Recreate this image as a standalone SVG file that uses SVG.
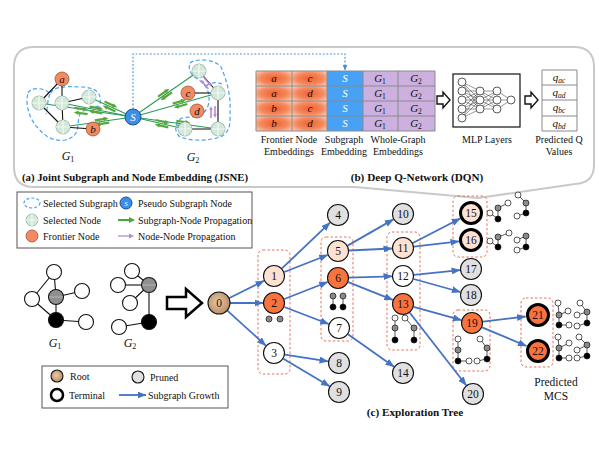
<svg xmlns="http://www.w3.org/2000/svg" width="599" height="463" viewBox="0 0 599 463">
<style>
text{font-family:"Liberation Serif","Times New Roman",serif;fill:#111}
.lbl{font-size:10px}
.cap{font-size:11.2px;font-weight:bold}
.it{font-style:italic}
.tn{font-size:11.5px;text-anchor:middle}
.nd{stroke:#111;stroke-width:1.1}
.term{stroke:#000;stroke-width:3}
.pru{fill:#e0e0e0}
.pea{fill:#fde2d2}
.org{fill:#f9733f}
.wht{fill:#fff}
.edge{stroke:#4472c4;stroke-width:1.8;fill:none;marker-end:url(#ah)}
.sel{fill:#d3e7da;stroke:#8fb09c;stroke-width:0.8}
.selx{stroke:#f2faf4;stroke-width:1.2}
.fr{fill:#f28a64;stroke:#a0502f;stroke-width:0.8}
.bk{stroke:#111;stroke-width:1.1}
.gl{stroke:#2b9a5a;stroke-width:1.1}
.bd{fill:none;stroke:#4aa3ee;stroke-width:1.2;stroke-dasharray:4,2.5}
.rbox{fill:none;stroke:#e8735a;stroke-width:1;stroke-dasharray:2.5,2}
.sm{stroke:#111;stroke-width:0.7}
.sm path{fill:none}
.sg{fill:#8a8a8a}
.sb{fill:#000}
.sw{fill:#fff}
.cell{stroke:#8a8a8a;stroke-width:1}
.gg{font-style:italic}
</style>
<defs>
<marker id="ah" markerWidth="9" markerHeight="7" refX="8.5" refY="3.5" orient="auto" markerUnits="userSpaceOnUse"><path d="M0,0 L9,3.5 L0,7 z" fill="#4472c4"/></marker>
<marker id="bh" markerWidth="6" markerHeight="5" refX="5.5" refY="2.5" orient="auto" markerUnits="userSpaceOnUse"><path d="M0,0 L6,2.5 L0,5 z" fill="#3d8fe0"/></marker>
<radialGradient id="og" cx="0.5" cy="0.5" r="0.7"><stop offset="0" stop-color="#f25f2e"/><stop offset="0.55" stop-color="#f58a5f"/><stop offset="1" stop-color="#fcd6c3"/></radialGradient>
<radialGradient id="rootg" cx="0.45" cy="0.45" r="0.6"><stop offset="0" stop-color="#e9c9a4"/><stop offset="1" stop-color="#b88a62"/></radialGradient>
<g id="dbl">
<path d="M-7,-2.2 H3" stroke="#57a83a" stroke-width="2.2"/><path d="M2,-4.4 L7,-2.2 L2,0 z" fill="#57a83a"/>
<path d="M7,2.2 H-3" stroke="#57a83a" stroke-width="2.2"/><path d="M-2,0 L-7,2.2 L-2,4.4 z" fill="#57a83a"/>
</g>
<g id="pdbl">
<path d="M-6,-2 H3" stroke="#b48ad6" stroke-width="1.6"/><path d="M2,-3.8 L6,-2 L2,-0.2 z" fill="#b48ad6"/>
<path d="M6,2 H-3" stroke="#b48ad6" stroke-width="1.6"/><path d="M-2,0.2 L-6,2 L-2,3.8 z" fill="#b48ad6"/>
</g>
</defs>
<rect width="599" height="463" fill="#fff"/>

<!-- top panel -->
<path id="panel" d="M34,47 H574 Q594,47 594,67 V165 Q594,183 575,184 L478,198 L355,187 H34 Q14,187 14,167 V67 Q14,47 34,47 Z" fill="#fff" stroke="#c9c9c9" stroke-width="2"/>

<!-- JSNE -->
<g id="jsne">
<path class="bd" d="M28,93 C30,87 45,87 50,94 C53,87 63,86 80,87 C95,87 102,92 100,104 C98,109 86,106 80,114 C76,124 82,136 65,140 C52,142 44,135 37,127 C29,118 25,104 28,93 Z"/>
<path class="bd" d="M50,94 C47,100 48,108 46,114"/>
<path class="bd" d="M190,63 C196,58 215,59 221,67 C226,78 231,95 230,110 C230,122 232,134 217,138 C205,141 190,141 180,137 C174,132 174,122 182,118 C192,116 203,119 208,106 C211,95 208,85 196,78 C190,74 188,68 190,63 Z"/>
<path class="bd" d="M206,86 C210,82 218,82 222,84"/>
<line class="gl" x1="133" y1="117" x2="39" y2="103"/>
<line class="gl" x1="133" y1="117" x2="62" y2="103"/>
<line class="gl" x1="133" y1="117" x2="89" y2="97"/>
<line class="gl" x1="133" y1="117" x2="63" y2="127"/>
<line class="gl" x1="133" y1="117" x2="199" y2="71"/>
<line class="gl" x1="133" y1="117" x2="218" y2="93"/>
<line class="gl" x1="133" y1="117" x2="218" y2="129"/>
<line class="gl" x1="133" y1="117" x2="185" y2="129"/>
<line class="bk" x1="62" y1="79" x2="39" y2="103"/>
<line class="bk" x1="62" y1="79" x2="62" y2="103"/>
<line class="bk" x1="62" y1="103" x2="89" y2="97"/>
<line class="bk" x1="39" y1="103" x2="63" y2="127"/>
<line class="bk" x1="62" y1="103" x2="63" y2="127"/>
<line class="bk" x1="63" y1="127" x2="93" y2="129"/>
<line class="bk" x1="188" y1="93" x2="218" y2="93"/>
<line class="bk" x1="199" y1="71" x2="218" y2="93"/>
<line class="bk" x1="218" y1="93" x2="218" y2="129"/>
<line class="bk" x1="185" y1="129" x2="218" y2="129"/>
<use href="#dbl" transform="translate(110,106.5) rotate(24.4)"/>
<use href="#dbl" transform="translate(96,110) rotate(11.2)"/>
<use href="#dbl" transform="translate(81,111) rotate(8.5)"/>
<use href="#dbl" transform="translate(102,121.5) rotate(-8.1)"/>
<use href="#dbl" transform="translate(165,94.5) rotate(-34.9)"/>
<use href="#dbl" transform="translate(180,103.8) rotate(-15.8)"/>
<use href="#dbl" transform="translate(162,123.7) rotate(13)"/>
<use href="#dbl" transform="translate(183,124) rotate(8)"/>
<use href="#pdbl" transform="translate(206,83) rotate(49)"/>
<use href="#pdbl" transform="translate(213,112) rotate(90)"/>
<g id="selnodes">
<circle class="sel" cx="39" cy="103" r="7"/><path class="selx" d="M39,96V110M32,103H46"/>
<circle class="sel" cx="62" cy="103" r="7"/><path class="selx" d="M62,96V110M55,103H69"/>
<circle class="sel" cx="89" cy="97" r="7"/><path class="selx" d="M89,90V104M82,97H96"/>
<circle class="sel" cx="63" cy="127" r="7"/><path class="selx" d="M63,120V134M56,127H70"/>
<circle class="sel" cx="199" cy="71" r="7"/><path class="selx" d="M199,64V78M192,71H206"/>
<circle class="sel" cx="218" cy="93" r="7"/><path class="selx" d="M218,86V100M211,93H225"/>
<circle class="sel" cx="218" cy="129" r="7"/><path class="selx" d="M218,122V136M211,129H225"/>
<circle class="sel" cx="185" cy="129" r="7"/><path class="selx" d="M185,122V136M178,129H192"/>
</g>
<circle class="fr" cx="62" cy="79" r="7"/><text x="62" y="83" class="it" font-size="11" text-anchor="middle">a</text>
<circle class="fr" cx="93" cy="129" r="7"/><text x="93" y="133" class="it" font-size="11" text-anchor="middle">b</text>
<circle class="fr" cx="188" cy="93" r="7"/><text x="188" y="97" class="it" font-size="11" text-anchor="middle">c</text>
<circle class="fr" cx="197" cy="111" r="7"/><text x="197" y="115" class="it" font-size="11" text-anchor="middle">d</text>
<circle cx="133" cy="117" r="8" fill="#3b8fe6" stroke="#1d4f8a" stroke-width="1"/>
<text x="133" y="121" class="it" font-size="11" text-anchor="middle" style="fill:#fff">S</text>
<text x="68" y="160" font-size="12" text-anchor="middle" class="gg">G<tspan font-size="8" dy="2" font-style="normal">1</tspan></text>
<text x="193" y="161" font-size="12" text-anchor="middle" class="gg">G<tspan font-size="8" dy="2" font-style="normal">2</tspan></text>
<path d="M133,109 V54 H345 V70" fill="none" stroke="#3d8fe0" stroke-width="1.1" stroke-dasharray="1.8,1.8" marker-end="url(#bh)"/>
<text x="135" y="181" class="cap" text-anchor="middle" style="font-size:10.8px">(a) Joint Subgraph and Node Embedding (JSNE)</text>
</g>

<!-- DQN -->
<g id="dqn">
<g id="table">
<rect x="256" y="71" width="36" height="15" fill="url(#og)"/><rect x="292" y="71" width="35" height="15" fill="url(#og)"/>
<rect x="256" y="86" width="36" height="15" fill="url(#og)"/><rect x="292" y="86" width="35" height="15" fill="url(#og)"/>
<rect x="256" y="101" width="36" height="15" fill="url(#og)"/><rect x="292" y="101" width="35" height="15" fill="url(#og)"/>
<rect x="256" y="116" width="36" height="15" fill="url(#og)"/><rect x="292" y="116" width="35" height="15" fill="url(#og)"/>
<rect x="327" y="71" width="36" height="60" fill="#47a2f5"/>
<rect x="363" y="71" width="72" height="60" fill="#ccb0df"/>
<path class="cell" fill="none" d="M256,71 H435 V131 H256 Z M256,86 H435 M256,101 H435 M256,116 H435 M292,71 V131 M327,71 V131 M363,71 V131 M398,71 V131"/>
<g font-size="11" text-anchor="middle">
<text x="274" y="82" class="it">a</text><text x="310" y="82" class="it">c</text>
<text x="274" y="97" class="it">a</text><text x="310" y="97" class="it">d</text>
<text x="274" y="112" class="it">b</text><text x="310" y="112" class="it">c</text>
<text x="274" y="127" class="it">b</text><text x="310" y="127" class="it">d</text>
<text x="345" y="82" class="it" style="fill:#fff">S</text>
<text x="345" y="97" class="it" style="fill:#fff">S</text>
<text x="345" y="112" class="it" style="fill:#fff">S</text>
<text x="345" y="127" class="it" style="fill:#fff">S</text>
</g>
<g font-size="11" text-anchor="middle" class="gg">
<text x="380" y="82">G<tspan font-size="7.5" dy="2" font-style="normal">1</tspan></text><text x="416" y="82">G<tspan font-size="7.5" dy="2" font-style="normal">2</tspan></text>
<text x="380" y="97">G<tspan font-size="7.5" dy="2" font-style="normal">1</tspan></text><text x="416" y="97">G<tspan font-size="7.5" dy="2" font-style="normal">2</tspan></text>
<text x="380" y="112">G<tspan font-size="7.5" dy="2" font-style="normal">1</tspan></text><text x="416" y="112">G<tspan font-size="7.5" dy="2" font-style="normal">2</tspan></text>
<text x="380" y="127">G<tspan font-size="7.5" dy="2" font-style="normal">1</tspan></text><text x="416" y="127">G<tspan font-size="7.5" dy="2" font-style="normal">2</tspan></text>
</g>
</g>
<g class="lbl" text-anchor="middle">
<text x="289" y="143">Frontier Node</text><text x="289" y="155">Embeddings</text>
<text x="344" y="143">Subgraph</text><text x="344" y="155">Embedding</text>
<text x="398" y="143">Whole-Graph</text><text x="398" y="155">Embeddings</text>
<text x="487" y="143">MLP Layers</text>
<text x="559" y="143">Predicted Q</text><text x="559" y="155">Values</text>
</g>
<path d="M437,96 H443 V92 L450,100 L443,108 V104 H437 Z" fill="#fff" stroke="#111" stroke-width="1.4"/>
<path d="M525,96 H531 V92 L538,100 L531,108 V104 H525 Z" fill="#fff" stroke="#111" stroke-width="1.4"/>
<g id="mlp">
<rect x="453" y="74" width="67" height="53" fill="#fff" stroke="#111" stroke-width="1.2"/>
<g stroke="#333" stroke-width="0.5">
<path d="M462,82 L480,91 M462,82 L480,100 M462,82 L480,109 M462,91 L480,91 M462,91 L480,100 M462,91 L480,109 M462,100 L480,91 M462,100 L480,100 M462,100 L480,109 M462,109 L480,91 M462,109 L480,100 M462,109 L480,109 M462,118 L480,91 M462,118 L480,100 M462,118 L480,109"/>
<path d="M480,91 L497,91 M480,91 L497,100 M480,91 L497,109 M480,100 L497,91 M480,100 L497,100 M480,100 L497,109 M480,109 L497,91 M480,109 L497,100 M480,109 L497,109"/>
<path d="M497,91 L511,100 M497,100 L511,100 M497,109 L511,100"/>
</g>
<g fill="#fff" stroke="#333" stroke-width="0.8">
<circle cx="462" cy="82" r="4"/><circle cx="462" cy="91" r="4"/><circle cx="462" cy="100" r="4"/><circle cx="462" cy="109" r="4"/><circle cx="462" cy="118" r="4"/>
<circle cx="480" cy="91" r="4"/><circle cx="480" cy="100" r="4"/><circle cx="480" cy="109" r="4"/>
<circle cx="497" cy="91" r="4"/><circle cx="497" cy="100" r="4"/><circle cx="497" cy="109" r="4"/>
<circle cx="511" cy="100" r="4"/>
</g>
</g>
<g id="qvals">
<path d="M542,70 H577 V131 H542 Z M542,85 H577 M542,100 H577 M542,116 H577" fill="#fff" stroke="#8a8a8a" stroke-width="1"/>
<g font-size="11" text-anchor="middle">
<text x="559" y="81" class="it">q<tspan font-size="7.5" dy="2">ac</tspan></text>
<text x="559" y="96" class="it">q<tspan font-size="7.5" dy="2">ad</tspan></text>
<text x="559" y="111" class="it">q<tspan font-size="7.5" dy="2">bc</tspan></text>
<text x="559" y="127" class="it">q<tspan font-size="7.5" dy="2">bd</tspan></text>
</g>
</g>
<text x="417" y="181" class="cap" text-anchor="middle">(b) Deep Q-Network (DQN)</text>
</g>

<!-- legend 1 -->
<g id="legend1">
<rect x="17" y="192" width="235" height="56" fill="#fff" stroke="#555" stroke-width="1"/>
<ellipse cx="32" cy="203" rx="8" ry="5" class="bd" style="stroke-dasharray:3,2"/>
<text x="43" y="207" class="lbl">Selected Subgraph</text>
<circle class="sel" cx="32" cy="220" r="6"/><path class="selx" d="M32,214V226M26,220H38"/>
<text x="43" y="224" class="lbl">Selected Node</text>
<circle class="fr" cx="32" cy="236" r="6"/>
<text x="43" y="240" class="lbl">Frontier Node</text>
<circle cx="126" cy="203" r="6" fill="#3b8fe6" stroke="#1d4f8a" stroke-width="1"/>
<text x="126" y="206" font-size="7" class="it" text-anchor="middle" style="fill:#fff">S</text>
<text x="138" y="207" class="lbl">Pseudo Subgraph Node</text>
<path d="M118,220 H130" stroke="#4aa83a" stroke-width="2"/><path d="M129,217 L135,220 L129,223 z" fill="#4aa83a"/>
<text x="138" y="224" class="lbl">Subgraph-Node Propagation</text>
<path d="M118,236 H130" stroke="#b48ad6" stroke-width="1.3"/><path d="M129,233.5 L134,236 L129,238.5 z" fill="#b48ad6"/>
<text x="138" y="240" class="lbl">Node-Node Propagation</text>
</g>

<!-- input graphs -->
<g id="g1small">
<g class="bk"><line x1="54" y1="272" x2="32" y2="299"/><line x1="54" y1="272" x2="56" y2="297"/><line x1="32" y1="299" x2="56" y2="320"/><line x1="56" y1="297" x2="82" y2="291"/><line x1="56" y1="297" x2="56" y2="320"/><line x1="56" y1="320" x2="86" y2="322"/></g>
<circle cx="54" cy="272" r="7.5" fill="#fff" class="nd"/>
<circle cx="32" cy="299" r="7.5" fill="#fff" class="nd"/>
<circle cx="56" cy="297" r="7.5" fill="#8f8f8f" class="nd"/><line x1="49" y1="297" x2="63" y2="297" stroke="#b5b5b5" stroke-width="1"/>
<circle cx="82" cy="291" r="7.5" fill="#fff" class="nd"/>
<circle cx="56" cy="320" r="7.5" fill="#000" class="nd"/>
<circle cx="86" cy="322" r="7.5" fill="#fff" class="nd"/>
<text x="55" y="347" font-size="12" text-anchor="middle" class="gg">G<tspan font-size="8" dy="2" font-style="normal">1</tspan></text>
</g>
<g id="g2small">
<g class="bk"><line x1="132" y1="271" x2="149" y2="285"/><line x1="118" y1="285" x2="149" y2="285"/><line x1="130" y1="303" x2="149" y2="285"/><line x1="149" y1="285" x2="149" y2="322"/><line x1="119" y1="327" x2="149" y2="322"/></g>
<circle cx="132" cy="271" r="7.5" fill="#fff" class="nd"/>
<circle cx="118" cy="285" r="7.5" fill="#fff" class="nd"/>
<circle cx="149" cy="285" r="7.5" fill="#8f8f8f" class="nd"/><line x1="142" y1="285" x2="156" y2="285" stroke="#b5b5b5" stroke-width="1"/>
<circle cx="130" cy="303" r="7.5" fill="#fff" class="nd"/>
<circle cx="149" cy="322" r="7.5" fill="#000" class="nd"/>
<circle cx="119" cy="327" r="7.5" fill="#fff" class="nd"/>
<text x="130" y="347" font-size="12" text-anchor="middle" class="gg">G<tspan font-size="8" dy="2" font-style="normal">2</tspan></text>
</g>
<path d="M167,297 H186 V289 L202,303 L186,317 V309 H167 Z" fill="#fff" stroke="#000" stroke-width="2.5" stroke-linejoin="miter"/>

<!-- legend 2 -->
<g id="legend2">
<rect x="42" y="366" width="186" height="42" fill="#fff" stroke="#555" stroke-width="1"/>
<circle cx="57" cy="376" r="6" fill="url(#rootg)" class="nd"/>
<text x="70" y="380" class="lbl">Root</text>
<circle cx="138" cy="377" r="6" class="nd pru"/>
<text x="150" y="381" class="lbl">Pruned</text>
<circle cx="57" cy="395" r="6" fill="#fff" stroke="#000" stroke-width="2.5"/>
<text x="69" y="399" class="lbl">Terminal</text>
<line x1="119" y1="395" x2="146" y2="395" class="edge"/>
<text x="148" y="399" class="lbl">Subgraph Growth</text>
</g>

<!-- exploration tree -->
<g id="boxes">
<rect class="rbox" x="258" y="250" width="32" height="124" rx="5"/>
<rect class="rbox" x="321" y="237" width="32" height="104" rx="5"/>
<rect class="rbox" x="387" y="232" width="33" height="118" rx="5"/>
<rect class="rbox" x="453" y="196" width="34" height="61" rx="5"/>
<rect class="rbox" x="453" y="310" width="37" height="61" rx="5"/>
<rect class="rbox" x="521" y="298" width="32" height="69" rx="5"/>
</g>
<g id="connectors">
<line class="edge" x1="228.9" y1="298.2" x2="264.1" y2="280.8"/>
<line class="edge" x1="230" y1="303" x2="263" y2="303"/>
<line class="edge" x1="227.1" y1="310.4" x2="265.9" y2="345.6"/>
<line class="edge" x1="282" y1="268.4" x2="330" y2="222.6"/>
<line class="edge" x1="284.3" y1="272" x2="327.7" y2="255"/>
<line class="edge" x1="284.3" y1="299" x2="327.7" y2="282"/>
<line class="edge" x1="284.3" y1="307" x2="328.7" y2="324"/>
<line class="edge" x1="284.9" y1="354.7" x2="328.1" y2="361.3"/>
<line class="edge" x1="283.4" y1="358.7" x2="329.6" y2="386.3"/>
<line class="edge" x1="347.6" y1="245.6" x2="393.4" y2="219.4"/>
<line class="edge" x1="349" y1="250.5" x2="392" y2="248.5"/>
<line class="edge" x1="349" y1="277.7" x2="392" y2="276.3"/>
<line class="edge" x1="348.2" y1="282.1" x2="392.8" y2="299.9"/>
<line class="edge" x1="348" y1="334.3" x2="394" y2="366.7"/>
<line class="edge" x1="412.8" y1="243" x2="460.3" y2="218.5"/>
<line class="edge" x1="413.9" y1="246.7" x2="459" y2="241.4"/>
<line class="edge" x1="413.9" y1="274.9" x2="460.1" y2="270.1"/>
<line class="edge" x1="413.6" y1="279" x2="460.4" y2="292"/>
<line class="edge" x1="413.6" y1="306.9" x2="461.4" y2="320.1"/>
<line class="edge" x1="409.8" y1="312.7" x2="466.2" y2="385.3"/>
<line class="edge" x1="482.9" y1="321.7" x2="525.5" y2="316.5"/>
<line class="edge" x1="482.1" y1="327.3" x2="526.5" y2="346"/>
</g>
<g id="n0"><circle cx="219" cy="303" r="11" fill="url(#rootg)" class="nd"/><text x="219" y="307" class="tn">0</text></g>
<g id="n1"><circle cx="274" cy="276" r="10.5" class="nd pea"/><text x="274" y="280" class="tn">1</text></g>
<g id="n2"><circle cx="274" cy="303" r="10.5" class="nd org"/><text x="274" y="307" class="tn">2</text></g>
<g id="n3"><circle cx="274" cy="353" r="10.5" class="nd wht"/><text x="274" y="357" class="tn">3</text></g>
<g id="n4"><circle cx="338" cy="215" r="10.5" class="nd pru"/><text x="338" y="219" class="tn">4</text></g>
<g id="n5"><circle cx="338" cy="251" r="10.5" class="nd pea"/><text x="338" y="255" class="tn">5</text></g>
<g id="n6"><circle cx="338" cy="278" r="10.5" class="nd org"/><text x="338" y="282" class="tn">6</text></g>
<g id="n7"><circle cx="339" cy="328" r="10.5" class="nd wht"/><text x="339" y="332" class="tn">7</text></g>
<g id="n8"><circle cx="339" cy="363" r="10.5" class="nd pru"/><text x="339" y="367" class="tn">8</text></g>
<g id="n9"><circle cx="339" cy="392" r="10.5" class="nd pru"/><text x="339" y="396" class="tn">9</text></g>
<g id="n10"><circle cx="403" cy="214" r="10.5" class="nd pru"/><text x="403" y="218" class="tn">10</text></g>
<g id="n11"><circle cx="403" cy="248" r="10.5" class="nd pea"/><text x="403" y="252" class="tn">11</text></g>
<g id="n12"><circle cx="403" cy="276" r="10.5" class="nd wht"/><text x="403" y="280" class="tn">12</text></g>
<g id="n13"><circle cx="403" cy="304" r="10.5" class="nd org"/><text x="403" y="308" class="tn">13</text></g>
<g id="n14"><circle cx="403" cy="373" r="10.5" class="nd pru"/><text x="403" y="377" class="tn">14</text></g>
<g id="n15"><circle cx="471" cy="213" r="10.5" class="term pea"/><text x="471" y="217" class="tn">15</text></g>
<g id="n16"><circle cx="471" cy="240" r="10.5" class="term pea"/><text x="471" y="244" class="tn">16</text></g>
<g id="n17"><circle cx="471" cy="269" r="10.5" class="nd pru"/><text x="471" y="273" class="tn">17</text></g>
<g id="n18"><circle cx="471" cy="295" r="10.5" class="nd pru"/><text x="471" y="299" class="tn">18</text></g>
<g id="n19"><circle cx="472" cy="323" r="10.5" class="nd org"/><text x="472" y="327" class="tn">19</text></g>
<g id="n20"><circle cx="473" cy="394" r="10.5" class="nd pru"/><text x="473" y="398" class="tn">20</text></g>
<g id="n21"><circle cx="538" cy="315" r="10.5" class="term org"/><text x="538" y="319" class="tn">21</text></g>
<g id="n22"><circle cx="538" cy="351" r="10.5" class="term org"/><text x="538" y="355" class="tn">22</text></g>

<!-- small subgraph icons -->
<g id="icons" class="sm">
<circle cx="269" cy="319" r="3" class="sg"/><circle cx="280" cy="319" r="3" class="sg"/>
<path d="M333,296V307M343,296V307"/>
<circle cx="333" cy="296" r="3" class="sg"/><circle cx="343" cy="296" r="3" class="sg"/><circle cx="333" cy="307" r="3" class="sb"/><circle cx="343" cy="307" r="3" class="sb"/>
<path d="M395,318V340M405,318L414,328V340"/>
<circle cx="395" cy="318" r="3" class="sw"/><circle cx="395" cy="328" r="3" class="sg"/><circle cx="395" cy="340" r="3" class="sb"/>
<circle cx="405" cy="318" r="3" class="sw"/><circle cx="414" cy="328" r="3" class="sg"/><circle cx="414" cy="340" r="3" class="sb"/>
<path d="M458,339V361H469M480,339L487,348V359L477,361"/>
<circle cx="458" cy="339" r="3" class="sw"/><circle cx="458" cy="350" r="3" class="sg"/><circle cx="458" cy="361" r="3" class="sb"/><circle cx="469" cy="361" r="3" class="sw"/>
<circle cx="480" cy="339" r="3" class="sw"/><circle cx="487" cy="348" r="3" class="sg"/><circle cx="487" cy="359" r="3" class="sb"/><circle cx="477" cy="361" r="3" class="sw"/>
<path d="M490,213L498,219V208L508,203M518,195L526,203V213L517,216"/>
<circle cx="490" cy="213" r="3" class="sw"/><circle cx="498" cy="208" r="3" class="sg"/><circle cx="508" cy="203" r="3" class="sw"/><circle cx="498" cy="219" r="3" class="sb"/>
<circle cx="518" cy="195" r="3" class="sw"/><circle cx="526" cy="203" r="3" class="sg"/><circle cx="526" cy="213" r="3" class="sb"/><circle cx="517" cy="216" r="3" class="sw"/>
<path d="M490,241L498,247V237L509,233M517,240L526,236V247L517,250"/>
<circle cx="490" cy="241" r="3" class="sw"/><circle cx="498" cy="237" r="3" class="sg"/><circle cx="509" cy="233" r="3" class="sw"/><circle cx="498" cy="247" r="3" class="sb"/>
<circle cx="517" cy="240" r="3" class="sw"/><circle cx="526" cy="236" r="3" class="sg"/><circle cx="526" cy="247" r="3" class="sb"/><circle cx="517" cy="250" r="3" class="sw"/>
<path d="M558,303L559,315L568,311M559,315V325H569M580,303L587,312L577,315M587,312V323L577,326"/>
<circle cx="558" cy="303" r="3" class="sw"/><circle cx="559" cy="315" r="3" class="sg"/><circle cx="568" cy="311" r="3" class="sw"/><circle cx="559" cy="325" r="3" class="sb"/><circle cx="569" cy="325" r="3" class="sw"/>
<circle cx="580" cy="303" r="3" class="sw"/><circle cx="587" cy="312" r="3" class="sg"/><circle cx="577" cy="315" r="3" class="sw"/><circle cx="587" cy="323" r="3" class="sb"/><circle cx="577" cy="326" r="3" class="sw"/>
<path d="M558,337L559,348L569,343M559,348V358H569M579,337L587,345L577,350M587,345V356L577,358"/>
<circle cx="558" cy="337" r="3" class="sw"/><circle cx="559" cy="348" r="3" class="sg"/><circle cx="569" cy="343" r="3" class="sw"/><circle cx="559" cy="358" r="3" class="sb"/><circle cx="569" cy="358" r="3" class="sw"/>
<circle cx="579" cy="337" r="3" class="sw"/><circle cx="587" cy="345" r="3" class="sg"/><circle cx="577" cy="350" r="3" class="sw"/><circle cx="587" cy="356" r="3" class="sb"/><circle cx="577" cy="358" r="3" class="sw"/>
</g>
<text x="556" y="386" font-size="11.5" text-anchor="middle">Predicted</text>
<text x="556" y="400" font-size="11.5" text-anchor="middle">MCS</text>
<text x="415" y="416" class="cap" text-anchor="middle">(c) Exploration Tree</text>
</svg>
